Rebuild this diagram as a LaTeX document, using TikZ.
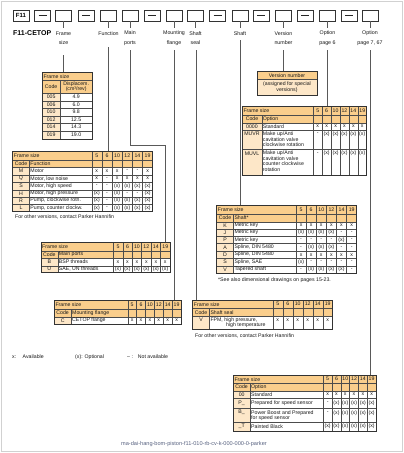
\documentclass[tikz,border=0pt]{standalone}
\usepackage{fontspec}
\setmainfont{Liberation Sans}
\newcounter{nd}
\definecolor{hdr}{RGB}{250,206,140}
\definecolor{codec}{RGB}{253,231,200}
\definecolor{ftc}{RGB}{90,100,130}
\tikzset{
  auto name/.code={\stepcounter{nd}\tikzset{name=n\arabic{nd}}},
  tx/.style={auto name, font=\fontsize{5.2}{5.6}\selectfont, inner sep=0pt, text=black!90},
  lbl/.style={font=\fontsize{5.3}{9.4}\selectfont, align=center, inner sep=0pt, text=black!90},
  box/.style={draw=black!80, line width=0.6pt, minimum width=16pt, minimum height=10.5pt, inner sep=0pt},
  grid/.style={draw=black!70, line width=0.4pt},
  outer/.style={draw=black!80, line width=0.7pt},
  conn/.style={draw=black!65, line width=0.7pt},
}
\newcommand\ftab[9]{%
  \def\tL{#1}\def\tC{#2}\def\tD{#3}\def\tR{#4}\def\tya{#5}\def\tyb{#6}\def\tyc{#7}%
  \fill[hdr] (#1,#5) rectangle (#4,#7);
  \fill[codec] (#1,#7) rectangle (#2,#8);
  \fill[white] (#2,#7) rectangle (#4,#8);
  \foreach \yy in {#6,#7,#9} {\draw[grid] (#1,\yy) -- (#4,\yy);}
  \draw[grid] (#2,#6) -- (#2,#8);
  \draw[grid] (#3,#5) -- (#3,#8);
  \foreach \i in {1,...,5} {\draw[grid] ({#3+(#4-#3)*\i/6},#5) -- ({#3+(#4-#3)*\i/6},#8);}
  \draw[outer] (#1,#5) rectangle (#4,#8);
  \node[tx,anchor=west] at (#1+1,{(#5+#6)/2}) {Frame size};
  \foreach \n [count=\i] in {5,6,10,12,14,19} {\node[tx] at ({#3+(#4-#3)*(\i-0.5)/6},{(#5+#6)/2}) {\n};}
}
\newcommand\tcode[2]{%
  \node[tx] at ({(\tL+\tC)/2},{(\tyb+\tyc)/2}) {#1};
  \node[tx,anchor=west] at (\tC+1,{(\tyb+\tyc)/2}) {#2};}
\newcommand\trow[4]{%
  \node[tx] at ({(\tL+\tC)/2},#1) {#2};
  \node[tx,anchor=west] at (\tC+1,#1) {#3};
  \foreach \v [count=\i] in {#4} {\node[tx] at ({\tD+(\tR-\tD)*(\i-0.5)/6},#1) {\v};}}
\newcommand\tline[2]{\node[tx,anchor=west] at (\tC+1,#1) {#2};}
\begin{document}
\begin{tikzpicture}[x=1pt,y=-1pt]
\useasboundingbox (0,0) rectangle (404,453);
\fill[white] (0,0) rectangle (404,453);
\draw[black!18, line width=0.5pt] (1.5,1.5) rectangle (402.5,451.5);

% ---- top code boxes
\node[box] (b1) at (21,15.75) {\fontsize{6}{6}\selectfont\bfseries F11};
\foreach \nm/\xx in {b2/42.5,b4/86,b7/152,b10/217.5,b12/261,b14/305,b16/349} {
  \node[box] (\nm) at (\xx,15.75) {};
  \draw[black!85, line width=0.7pt] ([xshift=-4pt]\nm.center) -- ([xshift=4pt]\nm.center);
}
\foreach \nm/\xx in {b3/63.5,b5/108.5,b6/130,b8/174,b9/195.5,b11/240,b13/283.5,b15/327.5,b17/370} {
  \node[box] (\nm) at (\xx,15.75) {};
  \draw[conn] (\nm.south) -- ++(0,7);
}
\node[inner sep=0pt, anchor=west, font=\fontsize{7}{7}\selectfont\bfseries] (title) at (13,33.3) {F11-CETOP};

% ---- labels
\node[lbl] (l3) at (63.5,38) {Frame\\size};
\node[lbl] (l5) at (108.5,33.3) {Function};
\node[lbl] (l6) at (130,38) {Main\\ports};
\node[lbl] (l8) at (174,38) {Mounting\\flange};
\node[lbl] (l9) at (195.5,38) {Shaft\\seal};
\node[lbl] (l11) at (240,33.3) {Shaft};
\node[lbl] (l13) at (283.5,38) {Version\\number};
\node[lbl] (l15) at (327.5,38) {Option\\page 6};
\node[lbl] (l17) at (370,38) {Option\\page 7, 67};

% ---- connector coordinates
\coordinate (s3) at (63.5,55);   \coordinate (e3) at (63.5,72.3);
\coordinate (s5) at (108.5,47);  \coordinate (e5) at (108.5,151);
\coordinate (s6) at (130,50);    \coordinate (j6a) at (130,145); \coordinate (j6b) at (165.3,145); \coordinate (e6) at (165.3,242.7);
\coordinate (s8) at (174.5,50);  \coordinate (e8) at (174.5,300.7);
\coordinate (s9) at (196.5,50);  \coordinate (e9) at (196.5,300);
\coordinate (s11) at (240,40);   \coordinate (e11) at (240,205.7);
\coordinate (s13) at (283.5,50); \coordinate (e13) at (283.5,71.7);
\coordinate (s15) at (327.5,50); \coordinate (e15) at (327.5,106.7);
\coordinate (s17) at (370,50);   \coordinate (e17) at (370,375);
\draw[conn] (s3) -- (e3);
\draw[conn] (s5) -- (e5);
\draw[conn] (s6) -- (j6a) -- (j6b) -- (e6);
\draw[conn] (s8) -- (e8);
\draw[conn] (s9) -- (e9);
\draw[conn] (s11) -- (e11);
\draw[conn] (s13) -- (e13);
\draw[conn] (s15) -- (e15);
\draw[conn] (s17) -- (e17);

% ---- displacement table
\fill[hdr] (42.3,72.3) rectangle (92.3,93.3);
\fill[codec] (42.3,93.3) rectangle (60,139);
\fill[white] (60,93.3) rectangle (92.3,139);
\foreach \yy in {80,93.3,101,108.3,116,123.3,131} {\draw[grid] (42.3,\yy) -- (92.3,\yy);}
\draw[grid] (60,80) -- (60,139);
\draw[outer] (42.3,72.3) rectangle (92.3,139);
\node[tx,anchor=west] at (43.3,76.15) {Frame size};
\node[tx] at (51.15,86.65) {Code};
\node[tx] at (76.15,84) {Displacem.};
\node[tx] at (76.15,89.6) {(cm³/rev)};
\foreach \c/\v/\yy in {005/4.9/97.15,006/6.0/104.65,010/9.8/112.15,012/12.5/119.65,014/14.3/127.15,019/19.0/135} {
  \node[tx] at (51.15,\yy) {\c};
  \node[tx] at (76.15,\yy) {\v};
}

% ---- function table
\ftab{12.7}{29.3}{91.7}{152.7}{151}{160}{167.3}{211.7}{174.7,182.3,189.7,197,204.3}
\tcode{Code}{Function}
\trow{171}{M}{Motor}{x,x,x,-,-,x}
\trow{178.5}{Q}{Motor, low noise}{x,-,x,x,x,x}
\trow{186}{S}{Motor, high speed}{-,-,(x),(x),(x),(x)}
\trow{193.35}{H}{Motor, high pressure}{(x),-,(x),-,-,(x)}
\trow{200.65}{R}{Pump, clockwise rotn.}{(x),-,(x),(x),(x),(x)}
\trow{208}{L}{Pump, counter clockw.}{(x),-,(x),(x),(x),(x)}
\node[tx,anchor=west] at (15,216.7) {For other versions, contact Parker Hannifin};

% ---- main ports table
\ftab{41}{57.7}{113.3}{170}{242.7}{251}{258.3}{272.7}{265.7}
\tcode{Code}{Main ports}
\trow{262}{B}{BSP threads}{x,x,x,x,x,x}
\trow{269.2}{U}{SAE, UN threads}{(x),(x),(x),(x),(x),(x)}

% ---- mounting flange table
\ftab{54.3}{71}{127.7}{181}{300.7}{309}{316.7}{324.3}{324.3}
\tcode{Code}{Mounting flange}
\trow{320.5}{C}{CETOP flange}{x,x,x,x,x,x}

% ---- shaft seal table
\ftab{192.7}{209.3}{272.7}{332.7}{300}{308.3}{316}{329.3}{329.3}
\tcode{Code}{Shaft seal}
\trow{319.8}{V}{FPM, high pressure,}{x,x,x,x,x,x}
\node[tx,anchor=west] at (226,325.4) {high temperature};
\node[tx,anchor=west] at (195,336) {For other versions, contact Parker Hannifin};

% ---- shaft table
\ftab{216.7}{233.3}{296}{356.7}{205.7}{214}{221.7}{273}{229,236.3,243.6,251,258.3,265.7}
\tcode{Code}{Shaft*}
\trow{225.35}{K}{Metric key}{x,x,x,x,x,x}
\trow{232.65}{J}{Metric key}{(x),(x),(x),(x),-,-}
\trow{239.95}{P}{Metric key}{-,-,-,-,(x),-}
\trow{247.3}{A}{Spline, DIN 5480}{-,(x),(x),(x),-,-}
\trow{254.65}{D}{Spline, DIN 5480}{x,x,x,x,x,x}
\trow{262}{S}{Spline, SAE}{(x),-,-,-,-,-}
\trow{269.35}{V}{Tapered shaft}{-,(x),(x),(x),(x),-}
\node[tx,anchor=west] at (218,280) {*See also dimensional drawings on pages 15-23.};

% ---- version number box
\fill[hdr] (257,71.7) rectangle (317,79.3);
\fill[codec] (257,79.3) rectangle (317,95);
\draw[grid] (257,79.3) -- (317,79.3);
\draw[outer] (257,71.7) rectangle (317,95);
\node[tx] at (287,75.5) {Version number};
\node[tx] at (287,84.6) {(assigned for special};
\node[tx] at (287,90) {versions)};

% ---- option table (page 6)
\ftab{242.3}{261.7}{313.3}{366.7}{106.7}{115}{122.7}{175.7}{130,149.3}
\tcode{Code}{Option}
\trow{126.35}{0000}{Standard}{x,x,x,x,x,x}
\trow{134}{MUVR}{Make up/Anti}{-,(x),(x),(x),(x),(x)}
\tline{139.4}{cavitation valve}
\tline{144.8}{clockwise rotation}
\trow{153.3}{MUVL}{Make up/Anti}{-,(x),(x),(x),(x),(x)}
\tline{158.7}{cavitation valve}
\tline{164.1}{counter clockwise}
\tline{169.5}{rotation}

% ---- option table (page 7, 67)
\ftab{233.3}{250}{323.3}{376}{375}{383.3}{390.7}{431.7}{398.3,408.3,421.7}
\tcode{Code}{Option}
\trow{394.5}{00}{Standard}{x,x,x,x,x,x}
\trow{403}{P\_}{Prepared for speed sensor}{-,(x),(x),(x),(x),(x)}
\trow{412.7}{B\_}{Power Boost and Prepared}{-,(x),(x),(x),(x),(x)}
\tline{418.3}{for speed sensor}
\trow{426.3}{\_T}{Painted Black}{(x),(x),(x),(x),(x),(x)}

% ---- legend and footer
\node[tx,anchor=west] (lg1) at (12,357) {x:};
\node[tx,anchor=west] (lg2) at (22.5,357) {Available};
\node[tx,anchor=west] (lg3) at (75,357) {(x): Optional};
\node[tx,anchor=west] (lg4) at (127,357) {– :};
\node[tx,anchor=west] (lg5) at (137.7,357) {Not available};
\node[tx,anchor=west,text=ftc,font=\fontsize{5.6}{6}\selectfont] (foot) at (121,444) {ma-dai-hang-bom-piston-f11-010-rb-cv-k-000-000-0-parker};
\end{tikzpicture}
\end{document}
